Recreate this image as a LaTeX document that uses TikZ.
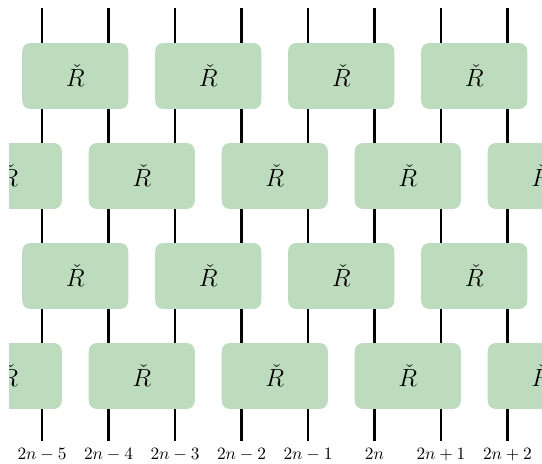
\documentclass[tikz,border=0pt]{standalone}
\definecolor{gatefill}{RGB}{188,220,189}
\begin{document}
\begin{tikzpicture}[x=0.578pt,y=-0.578pt,
  wire/.style={line width=1.65pt},
  gate/.style={fill=gatefill, rounded corners=4.6pt, minimum width=61.3pt, minimum height=38.1pt, inner sep=0pt, font=\Large},
  lab/.style={font=\normalsize, inner sep=0pt, anchor=base}]
\useasboundingbox (0,0) rectangle (542,464);
\begin{scope}
\clip (9,0) rectangle (542,464);
\foreach \i in {0,...,7} {
  \coordinate (t\i) at ({42+66.5*\i},8);
  \coordinate (b\i) at ({42+66.5*\i},441);
  \draw[wire] (t\i) -- (b\i);
}
\foreach \k in {0,...,3} {
  \node[gate] (ga\k) at ({75.25+133*\k},76) {$\check{R}$};
  \node[gate] (gc\k) at ({75.25+133*\k},276) {$\check{R}$};
}
\foreach \k in {0,...,4} {
  \node[gate] (gb\k) at ({8.75+133*\k},176) {$\check{R}$};
  \node[gate] (gd\k) at ({8.75+133*\k},376) {$\check{R}$};
}
\end{scope}
\foreach \i/\t in {0/2n-5,1/2n-4,2/2n-3,3/2n-2,4/2n-1,5/2n,6/2n+1,7/2n+2} {
  \node[lab] (l\i) at ({42+66.5*\i},459) {$\t$};
}
\end{tikzpicture}
\end{document}
